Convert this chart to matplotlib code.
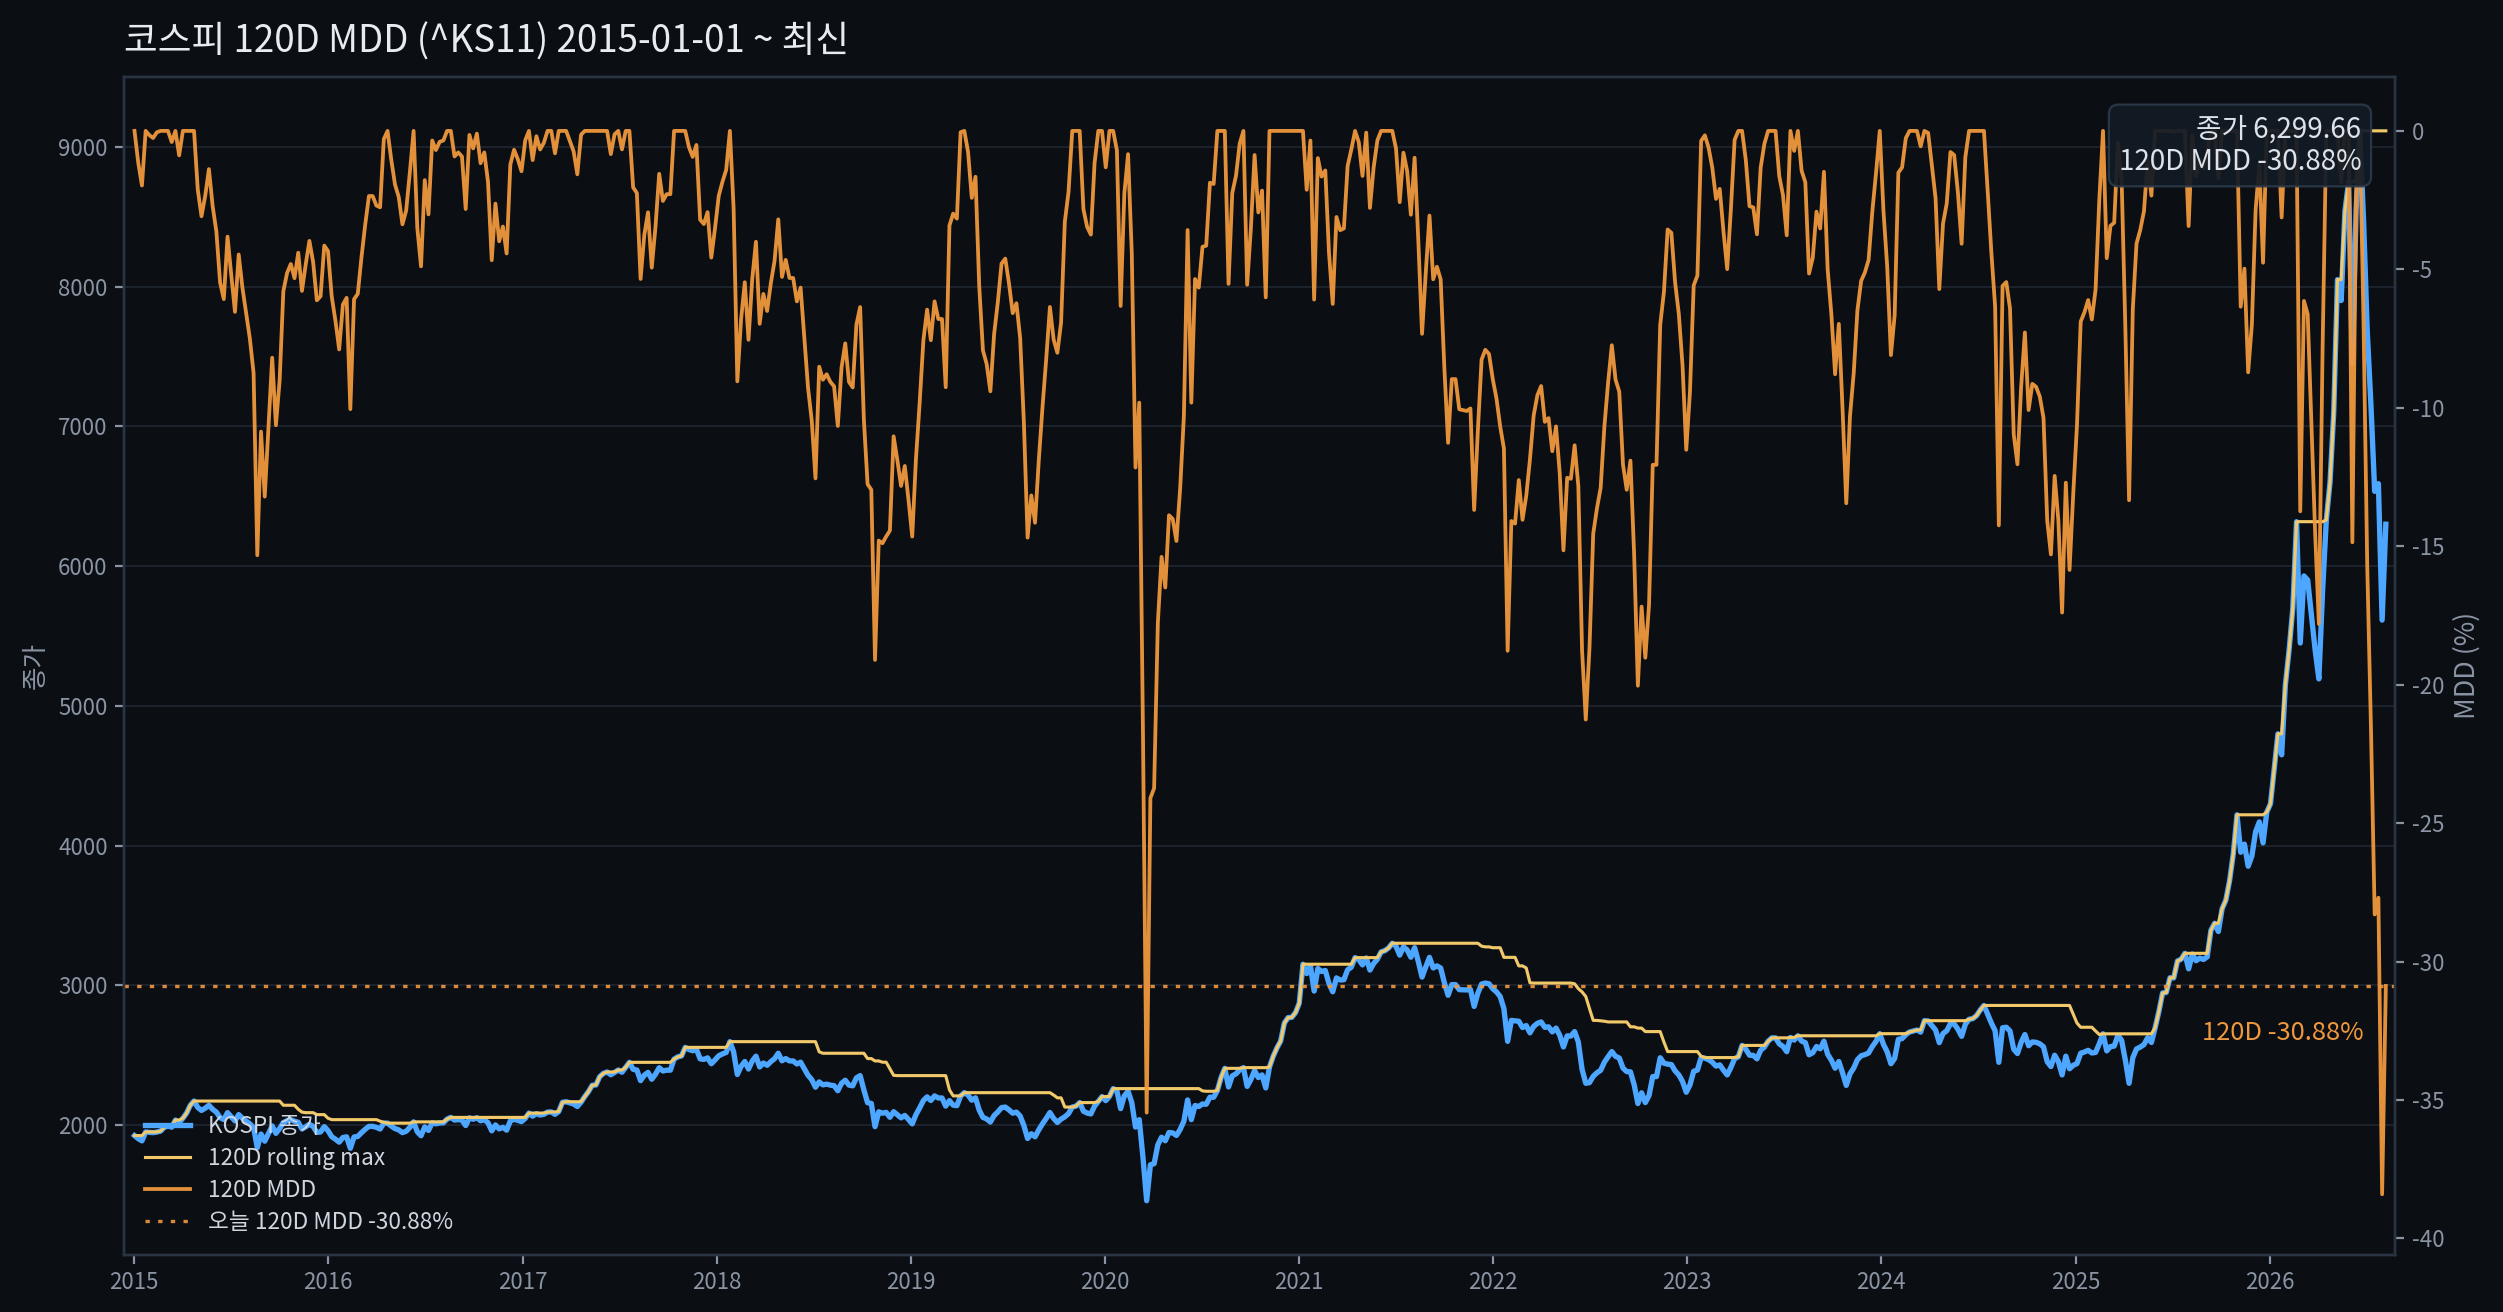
import pandas as pd
import matplotlib
matplotlib.use("Agg")
import matplotlib.pyplot as plt
import matplotlib.dates as mdates
from matplotlib.ticker import MultipleLocator

plt.rcParams["font.family"] = ["Noto Sans CJK KR", "DejaVu Sans"]
plt.rcParams["axes.unicode_minus"] = False

TICKER = "^KS11"
START = "2015-01-01"
WINDOW = 24  # weekly points, ~120 trading days

# weekly closes (Fridays)
close_2015 = [1926, 1904, 1888, 1952, 1949, 1947, 1951, 1958, 1985, 1994, 1986, 2037, 2019,
              2050, 2087, 2143, 2173, 2127, 2106, 2122, 2143, 2114, 2094, 2054, 2041, 2090,
              2060, 2031, 2076, 2050, 2030, 2010, 1983, 1840, 1937, 1886, 1941, 1995, 1942,
              1977, 2019, 2033, 2040, 2029, 2021, 1973, 1989, 2007, 1991, 1949, 1952, 1990]
close_2016 = [1961, 1918, 1900, 1879, 1912, 1917, 1835, 1916, 1920, 1947, 1971, 1992, 1992,
              1985, 1973, 2015, 2015, 1994, 1976, 1967, 1947, 1957, 1985, 2024, 1953, 1925,
              1988, 1963, 2017, 2010, 2016, 2017, 2044, 2056, 2037, 2040, 2037, 1998, 2053,
              2043, 2054, 2032, 2040, 2018, 1960, 2002, 1974, 1985, 1965, 2031, 2042, 2035, 2026]
close_2017 = [2049, 2087, 2065, 2083, 2073, 2078, 2094, 2095, 2078, 2098, 2164, 2168, 2160,
              2152, 2134, 2165, 2205, 2241, 2286, 2288, 2347, 2371, 2381, 2361, 2378, 2395,
              2379, 2414, 2450, 2400, 2395, 2319, 2358, 2378, 2329, 2365, 2412, 2388, 2394,
              2394, 2473, 2489, 2496, 2557, 2542, 2533, 2544, 2475, 2471, 2482, 2440, 2467]
close_2018 = [2497, 2510, 2521, 2598, 2525, 2363, 2421, 2456, 2402, 2459, 2494, 2417, 2445,
              2429, 2455, 2476, 2515, 2461, 2477, 2460, 2460, 2438, 2451, 2404, 2357, 2326,
              2272, 2310, 2289, 2294, 2287, 2283, 2247, 2300, 2322, 2287, 2282, 2339, 2355,
              2253, 2161, 2156, 1990, 2096, 2086, 2092, 2057, 2097, 2075, 2053, 2070, 2041]
close_2019 = [2010, 2076, 2124, 2177, 2203, 2177, 2210, 2195, 2195, 2137, 2176, 2144, 2140,
              2209, 2233, 2216, 2179, 2196, 2108, 2056, 2045, 2023, 2069, 2095, 2126, 2130,
              2110, 2086, 2094, 2066, 1998, 1905, 1939, 1917, 1967, 2010, 2049, 2091, 2049,
              2020, 2044, 2060, 2083, 2130, 2137, 2162, 2101, 2087, 2081, 2137, 2170, 2205]
close_2020 = [2176, 2206, 2262, 2246, 2119, 2211, 2243, 2162, 1987, 2040, 1771, 1460, 1717,
              1725, 1860, 1914, 1889, 1948, 1945, 1927, 1970, 2029, 2181, 2040, 2141, 2134,
              2152, 2150, 2201, 2200, 2249, 2342, 2407, 2274, 2353, 2368, 2396, 2412, 2278,
              2327, 2391, 2341, 2360, 2267, 2416, 2493, 2553, 2602, 2731, 2770, 2772, 2806]
close_2021 = [2873, 3152, 3085, 3141, 2960, 3121, 3100, 3107, 3013, 2955, 3054, 3039, 3041,
              3112, 3131, 3199, 3186, 3147, 3197, 3110, 3157, 3188, 3240, 3249, 3268, 3302,
              3281, 3217, 3276, 3254, 3202, 3270, 3171, 3060, 3133, 3201, 3125, 3140, 3125,
              3019, 2930, 3006, 3006, 2970, 2969, 2968, 2971, 2850, 2945, 3010, 3017, 3012, 2977]
close_2022 = [2954, 2921, 2834, 2600, 2750, 2747, 2744, 2699, 2713, 2661, 2707, 2729, 2739,
              2700, 2704, 2668, 2695, 2644, 2560, 2639, 2638, 2670, 2595, 2400, 2300, 2305,
              2350, 2375, 2393, 2451, 2490, 2527, 2493, 2481, 2409, 2384, 2382, 2290, 2155,
              2232, 2162, 2213, 2348, 2348, 2483, 2444, 2437, 2434, 2389, 2360, 2313, 2236]
close_2023 = [2289, 2386, 2395, 2484, 2480, 2469, 2451, 2423, 2432, 2394, 2360, 2414, 2476,
              2490, 2571, 2544, 2501, 2500, 2475, 2537, 2559, 2601, 2625, 2625, 2582, 2564,
              2526, 2628, 2609, 2640, 2602, 2591, 2504, 2519, 2563, 2547, 2601, 2508, 2465,
              2408, 2456, 2375, 2285, 2368, 2409, 2469, 2497, 2505, 2517, 2563, 2600, 2655]
close_2024 = [2578, 2525, 2440, 2478, 2615, 2620, 2648, 2667, 2674, 2681, 2666, 2748, 2746,
              2714, 2681, 2591, 2656, 2676, 2727, 2724, 2687, 2636, 2722, 2758, 2763, 2784,
              2824, 2857, 2795, 2731, 2676, 2450, 2697, 2701, 2674, 2544, 2513, 2593, 2649,
              2569, 2596, 2593, 2583, 2561, 2455, 2420, 2501, 2455, 2360, 2494, 2404, 2429]
close_2025 = [2441, 2515, 2524, 2536, 2517, 2521, 2583, 2654, 2532, 2563, 2566, 2643, 2607,
              2465, 2300, 2483, 2546, 2559, 2577, 2626, 2592, 2697, 2812, 2946, 2950, 3055,
              3054, 3175, 3188, 3230, 3119, 3225, 3177, 3196, 3186, 3205, 3395, 3445, 3386,
              3549, 3610, 3748, 3941, 4221, 3953, 4011, 3853, 3926, 4100, 4170, 4020, 4240]
close_2026 = [4300, 4550, 4800, 4650, 5150, 5400, 5700, 6318, 5450, 5930, 5900, 5650, 5400,
              5193, 5820, 6330, 6600, 7100, 8050, 7900, 8540, 8750, 7450, 8540, 9114.1, 8485,
              7683, 7150, 6535, 6590, 5614, 6299.66]

years = list(range(2015, 2027))
weekly = [close_2015, close_2016, close_2017, close_2018, close_2019, close_2020,
          close_2021, close_2022, close_2023, close_2024, close_2025, close_2026]

dates, values = [], []
for year, vals in zip(years, weekly):
    fridays = pd.date_range(f"{year}-01-01", f"{year}-12-31", freq="W-FRI")[:len(vals)]
    dates.extend(fridays)
    values.extend(vals)

close = pd.Series(values, index=pd.DatetimeIndex(dates), name="Close")
roll_max = close.rolling(WINDOW, min_periods=1).max()
mdd = (close / roll_max - 1.0) * 100

last_close = close.iloc[-1]
last_mdd = mdd.iloc[-1]

# colours
BG = "#0b0e13"
GRID = "#1c222c"
SPINE = "#2a3342"
TICK = "#8a94a3"
TITLE = "#e8ebf0"
BLUE = "#4da6ff"
GOLD = "#f1c96b"
ORANGE = "#f0983e"

fig, ax = plt.subplots(figsize=(15.644, 8.2), dpi=160)
fig.patch.set_facecolor(BG)
ax.set_facecolor(BG)
fig.subplots_adjust(left=0.0497, right=0.957, top=0.9416, bottom=0.0438)

l1, = ax.plot(close.index, close.values, color=BLUE, lw=2.4, label="KOSPI 종가")
l2, = ax.plot(roll_max.index, roll_max.values, color=GOLD, lw=1.4, label="120D rolling max")
ax.set_ylim(1075, 9502)
ax.yaxis.set_major_locator(MultipleLocator(1000))
ax.set_ylabel("종가", color=TICK, fontsize=11.5)
ax.grid(axis="y", color=GRID, lw=0.9)
ax.set_axisbelow(True)

ax2 = ax.twinx()
l3, = ax2.plot(mdd.index, mdd.values, color=ORANGE, lw=1.7, alpha=0.95, label="120D MDD")
l4 = ax2.axhline(last_mdd, color=ORANGE, lw=1.5, ls=(0, (1.3, 2.5)), alpha=0.9,
                 label=f"오늘 120D MDD {last_mdd:.2f}%")
ax2.set_ylim(-40.58, 1.96)
ax2.yaxis.set_major_locator(MultipleLocator(5))
ax2.set_ylabel("MDD (%)", color=TICK, fontsize=12)

ax.set_xlim(pd.Timestamp("2014-12-14"), pd.Timestamp("2026-08-25"))
ax.xaxis.set_major_locator(mdates.YearLocator())
ax.xaxis.set_major_formatter(mdates.DateFormatter("%Y"))

for a in (ax, ax2):
    a.tick_params(colors=TICK, labelsize=10, length=4, width=1)
    for sp in a.spines.values():
        sp.set_color(SPINE)
        sp.set_linewidth(1.1)

ax.set_title(f"코스피 120D MDD ({TICKER}) {START} ~ 최신", loc="left",
             fontsize=16.5, color=TITLE, pad=11)

ax2.annotate(f"120D {last_mdd:.2f}%", xy=(0.986, last_mdd),
             xycoords=("axes fraction", "data"), xytext=(0, -21),
             textcoords="offset points", ha="right", va="center",
             color=ORANGE, fontsize=11.5)

ax2.text(0.985, 0.968, f"종가 {last_close:,.2f}\n120D MDD {last_mdd:.2f}%",
         transform=ax2.transAxes, ha="right", va="top", fontsize=12.5,
         color="#dde3ea", zorder=10, linespacing=1.1,
         bbox=dict(boxstyle="round,pad=0.35", fc="#121a25", ec="#2c394a", alpha=0.93))

leg = ax2.legend(handles=[l1, l2, l3, l4], loc="lower left", frameon=False,
                 fontsize=10.2, labelcolor="#cfd6df", labelspacing=0.4)

fig.savefig("out.png", dpi=160, facecolor=BG)
